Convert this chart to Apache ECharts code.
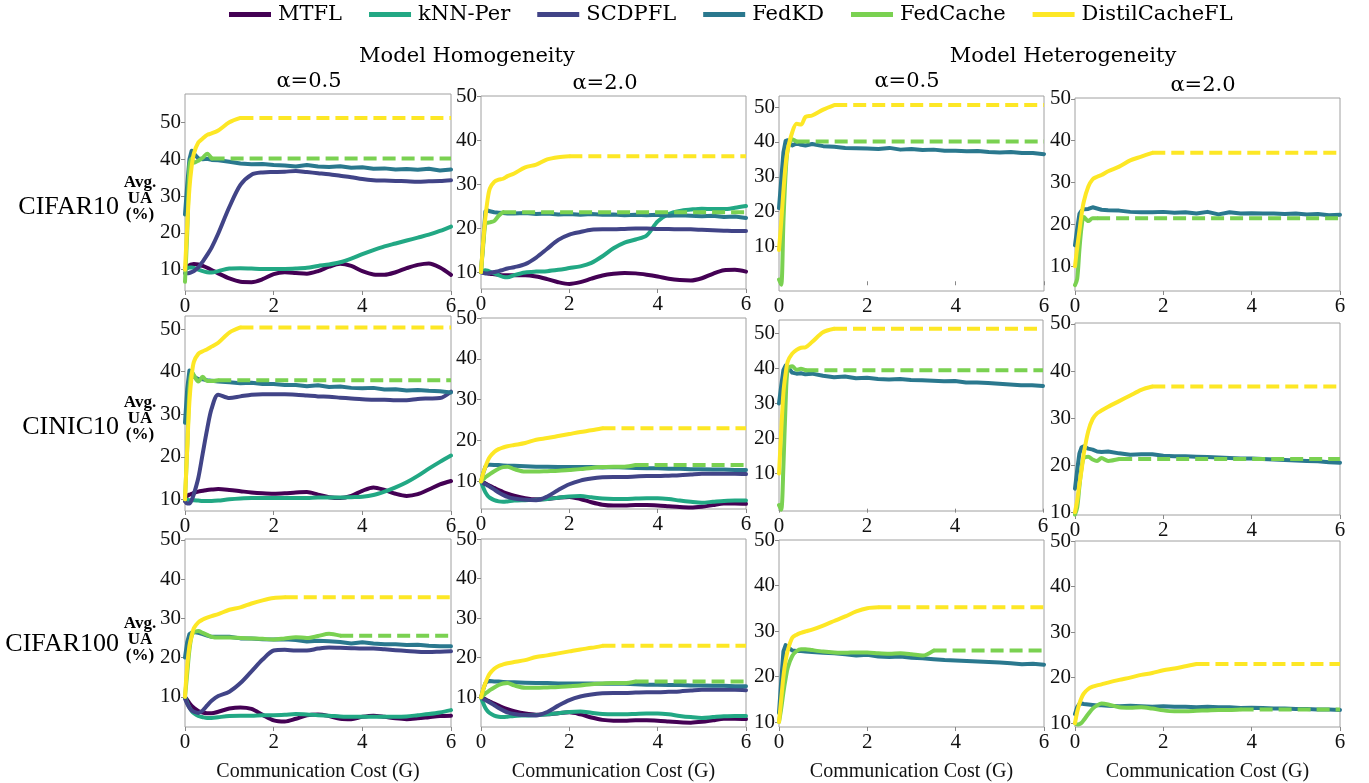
<!DOCTYPE html>
<html>
<head>
<meta charset="utf-8">
<script src="https://cdn.jsdelivr.net/npm/echarts@6/dist/echarts.min.js"></script>
<style>
html,body{margin:0;padding:0;background:#fff;}
#chart{width:1369px;height:783px;}
</style>
</head>
<body>
<div id="chart"></div>
<script>
// ---------------- DATA ----------------
const X = [0, 0.05, 0.1, 0.15, 0.2, 0.3, 0.4, 0.5, 0.6, 0.75, 1.0, 1.25, 1.5, 1.75, 2.0, 2.25, 2.5, 2.75, 3.0, 3.25, 3.5, 3.75, 4.0, 4.25, 4.5, 4.75, 5.0, 5.25, 5.5, 5.75, 6.0];
const METHODS = ['MTFL', 'kNN-Per', 'SCDPFL', 'FedKD', 'FedCache', 'DistilCacheFL'];
const ROW_NAMES = ['CIFAR10', 'CINIC10', 'CIFAR100'];
const GROUP_TITLES = ['Model Homogeneity', 'Model Heterogeneity'];
const COL_TITLES = ['α=0.5', 'α=2.0', 'α=0.5', 'α=2.0'];
const Y_TICKS = [10, 20, 30, 40, 50];
const X_TICKS = [0, 2, 4, 6];

// CIFAR10, model homogeneity, alpha=0.5
const c10_homo_a05_MTFL = [10.5,10.9,11.2,11.4,11.5,11.4,11.0,10.5,9.9,9.0,7.6,6.7,6.6,7.4,8.8,9.3,9.1,8.9,9.6,10.8,11.6,11.0,9.6,8.7,8.6,9.3,10.4,11.3,11.7,10.6,8.6];
const c10_homo_a05_kNN = [10.0,10.4,10.6,10.6,10.5,10.0,9.6,9.3,9.2,9.6,10.3,10.4,10.3,10.2,10.2,10.2,10.3,10.5,11.0,11.4,12.0,13.0,14.2,15.3,16.3,17.1,17.9,18.7,19.5,20.5,21.7];
const c10_homo_a05_SCDPFL = [9.0,9.0,9.1,9.3,9.6,10.6,12.2,14.0,16.0,19.8,27.0,33.0,35.8,36.4,36.5,36.6,36.8,36.5,36.2,35.9,35.5,35.1,34.6,34.3,34.2,34.1,34.0,33.9,34.0,34.1,34.3];
const c10_homo_a05_FedKD = [25.0,33.0,40.0,42.3,41.5,40.2,40.0,40.1,39.8,39.7,39.3,38.8,38.6,38.7,38.4,38.3,38.0,38.4,38.0,37.9,38.1,37.7,37.8,37.4,37.5,37.2,37.3,37.1,37.4,36.9,37.2];
const c10_homo_a05_FedCache = [6.7,20.0,38.0,40.2,39.0,39.6,40.4,41.5,40.2];
const c10_homo_a05_Distil = [10.0,22.0,32.0,38.0,41.5,44.5,45.6,46.6,47.0,47.8,50.0,51.2];

// CIFAR10, model homogeneity, alpha=2.0
const c10_homo_a20_MTFL = [10.0,9.9,9.8,9.7,9.6,9.5,9.4,9.3,9.3,9.3,9.3,9.0,8.4,7.7,7.3,7.7,8.5,9.2,9.6,9.8,9.7,9.4,9.0,8.5,8.2,8.1,8.6,9.6,10.4,10.5,10.1];
const c10_homo_a20_kNN = [10.0,10.3,10.4,10.3,10.1,9.7,9.3,8.9,8.8,9.3,9.9,10.1,10.2,10.5,10.9,11.3,12.1,13.6,15.4,16.7,17.4,18.3,21.5,23.2,23.9,24.2,24.4,24.3,24.3,24.6,25.0];
const c10_homo_a20_SCDPFL = [10.0,9.8,9.7,9.7,9.8,10.0,10.2,10.5,10.8,11.1,11.8,13.3,15.3,17.3,18.5,19.1,19.6,19.7,19.7,19.8,19.9,19.9,19.8,19.8,19.7,19.7,19.6,19.5,19.4,19.3,19.3];
const c10_homo_a20_FedKD = [10.0,17.0,23.8,24.0,23.8,23.6,23.5,23.4,23.3,23.3,23.4,23.2,23.3,23.1,23.2,23.0,23.2,23.0,23.1,22.9,23.0,22.9,23.0,22.8,22.9,22.8,22.7,22.8,22.5,22.6,22.3];
const c10_homo_a20_FedCache = [10.0,16.0,21.0,21.2,21.3,21.6,22.8,23.6];
const c10_homo_a20_Distil = [10.0,17.0,22.5,26.5,29.0,30.5,31.0,31.2,31.8,32.4,33.8,34.4,35.6,36.1,36.3];

// CIFAR10, model heterogeneity, alpha=0.5
const c10_hete_a05_FedKD = [21.0,29.0,37.0,40.3,40.5,39.0,39.6,39.2,39.0,39.4,38.8,38.6,38.3,38.2,38.1,38.0,38.3,37.8,38.0,37.7,37.8,37.5,37.5,37.3,37.4,37.1,37.0,37.1,36.8,36.8,36.5];
const c10_hete_a05_FedCache = [0.5,-1.0,17.0,31.0,38.0,40.8,40.1];
const c10_hete_a05_Distil = [9.0,17.0,26.0,33.5,38.0,42.8,45.2,45.0,47.2,47.6,49.3,50.6];

// CIFAR10, model heterogeneity, alpha=2.0
const c10_hete_a20_FedKD = [15.0,19.0,22.5,23.3,23.6,23.7,24.1,23.8,23.5,23.4,23.3,23.0,22.9,22.9,23.0,22.8,22.9,22.6,23.0,22.4,22.9,22.6,22.7,22.6,22.6,22.5,22.6,22.4,22.5,22.2,22.3];
const c10_hete_a20_FedCache = [5.5,7.0,14.0,19.5,21.8,20.8,21.5,21.5];
const c10_hete_a20_Distil = [10.0,14.5,18.5,22.5,25.5,29.0,30.8,31.4,31.8,32.7,33.8,35.3,36.2,37.1];

// CINIC10, model homogeneity, alpha=0.5
const cinic_homo_a05_MTFL = [10.5,10.8,11.1,11.3,11.5,11.8,12.0,12.2,12.3,12.4,12.2,11.9,11.6,11.4,11.3,11.4,11.6,11.7,11.1,10.5,10.3,10.8,12.0,12.8,12.2,11.3,10.8,11.2,12.3,13.5,14.3];
const cinic_homo_a05_kNN = [10.0,9.9,9.8,9.8,9.8,9.7,9.6,9.6,9.6,9.7,10.0,10.2,10.3,10.3,10.3,10.3,10.3,10.3,10.4,10.4,10.4,10.5,10.6,11.0,11.8,12.8,14.0,15.5,17.2,18.8,20.3];
const cinic_homo_a05_SCDPFL = [9.5,9.0,9.0,9.8,11.2,15.0,20.8,26.5,31.3,34.6,33.8,34.2,34.6,34.7,34.7,34.7,34.6,34.4,34.2,34.1,33.9,33.7,33.5,33.4,33.4,33.3,33.3,33.6,33.7,33.8,35.3];
const cinic_homo_a05_FedKD = [28.0,36.0,40.3,40.0,38.8,38.3,38.2,38.0,37.9,37.7,37.5,37.3,37.4,37.1,37.1,36.9,36.9,36.6,36.8,36.4,36.5,36.2,36.1,36.2,35.8,35.9,35.6,35.7,35.5,35.4,35.1];
const cinic_homo_a05_FedCache = [10.0,22.0,36.0,40.0,39.2,37.7,38.8,37.8,37.8,38.0];
const cinic_homo_a05_Distil = [10.0,22.0,33.0,39.0,42.3,44.2,44.8,45.3,45.9,46.8,49.2,50.4];

// CINIC10, model homogeneity, alpha=2.0
const cinic_homo_a20_MTFL = [10.0,9.8,9.5,9.2,8.9,8.4,7.9,7.4,7.0,6.5,5.9,5.6,5.7,6.0,6.2,5.7,4.9,4.3,4.1,4.1,4.2,4.2,4.1,3.9,3.7,3.6,3.8,4.2,4.6,4.6,4.5];
const cinic_homo_a20_kNN = [10.0,8.5,7.3,6.5,6.0,5.4,5.1,5.0,5.1,5.3,5.4,5.5,5.7,6.0,6.3,6.4,6.1,5.8,5.7,5.7,5.8,5.9,5.9,5.7,5.3,5.0,4.8,5.0,5.2,5.3,5.3];
const cinic_homo_a20_SCDPFL = [10.0,9.6,9.3,9.0,8.7,8.0,7.3,6.7,6.2,5.8,5.5,5.4,6.3,7.9,9.3,10.2,10.7,11.0,11.1,11.1,11.2,11.3,11.3,11.4,11.5,11.7,11.9,11.9,11.9,11.9,11.8];
const cinic_homo_a20_FedKD = [10.0,12.0,13.6,14.0,14.1,14.0,14.0,13.9,13.8,13.8,13.7,13.6,13.6,13.5,13.5,13.5,13.5,13.4,13.5,13.4,13.3,13.2,13.2,13.1,13.1,13.0,13.0,12.9,12.9,12.8,12.8];
const cinic_homo_a20_FedCache = [10.0,10.5,11.0,11.4,11.8,12.5,13.1,13.5,13.6,13.0,12.4,12.4,12.5,12.6,12.8,13.0,13.3,13.5,13.6,13.6,14.0];
const cinic_homo_a20_Distil = [10.0,12.0,13.6,15.0,16.0,17.2,17.9,18.3,18.6,18.9,19.4,20.2,20.6,21.1,21.6,22.1,22.5,23.0];

// CINIC10, model heterogeneity, alpha=0.5
const cinic_hete_a05_FedKD = [30.0,35.0,39.5,40.8,40.3,38.8,38.5,38.6,38.3,38.5,37.9,37.5,37.7,37.2,37.3,37.0,36.8,37.0,36.7,36.6,36.5,36.3,36.4,36.0,36.0,35.8,35.6,35.4,35.2,35.2,35.0];
const cinic_hete_a05_FedCache = [1.0,-0.3,12.0,30.0,40.0,40.6,39.6,39.9,39.5];
const cinic_hete_a05_Distil = [10.0,22.0,33.0,38.5,42.0,44.2,45.3,45.9,46.0,47.5,50.3,51.3];

// CINIC10, model heterogeneity, alpha=2.0
const cinic_hete_a20_FedKD = [15.0,19.0,22.5,23.8,24.0,23.5,23.3,22.9,22.8,22.9,22.5,22.2,22.3,22.3,22.0,21.9,21.9,21.8,21.7,21.6,21.5,21.4,21.4,21.3,21.2,21.1,21.0,20.9,20.8,20.6,20.5];
const cinic_hete_a20_FedCache = [9.5,11.0,15.5,19.5,21.5,21.8,21.2,20.9,21.5,20.9,21.3];
const cinic_hete_a20_Distil = [10.0,12.5,16.0,19.0,22.5,27.2,29.8,31.0,31.6,32.4,33.6,34.8,36.0,36.7];

// CIFAR100, model homogeneity, alpha=0.5
const c100_homo_a05_MTFL = [10.0,9.2,8.4,7.7,7.2,6.4,6.0,5.8,5.8,6.2,7.0,7.3,6.9,5.4,4.0,3.7,4.4,5.3,5.5,5.1,4.4,4.3,4.9,5.2,4.9,4.5,4.3,4.5,4.8,5.1,5.2];
const c100_homo_a05_kNN = [10.0,8.5,7.3,6.4,5.8,5.1,4.8,4.6,4.6,4.8,5.1,5.2,5.2,5.3,5.3,5.4,5.6,5.5,5.3,5.2,5.0,4.9,4.9,4.9,4.9,4.9,5.0,5.3,5.6,6.0,6.6];
const c100_homo_a05_SCDPFL = [9.5,8.2,7.2,6.5,6.2,5.9,6.5,7.8,9.0,10.2,11.3,13.5,16.5,19.5,21.8,22.0,21.8,21.8,22.3,22.6,22.5,22.4,22.3,22.3,22.1,21.9,21.7,21.5,21.4,21.5,21.6];
const c100_homo_a05_FedKD = [20.0,24.0,26.0,26.4,26.5,26.3,26.0,25.6,25.3,25.3,25.3,24.9,24.9,24.7,24.6,24.7,24.5,24.1,24.3,24.2,24.0,23.6,23.9,23.6,23.4,23.4,23.2,23.3,23.0,22.9,22.9];
const c100_homo_a05_FedCache = [10.0,16.0,22.0,25.5,26.5,26.8,26.3,25.8,25.3,25.1,25.1,25.0,24.9,24.8,24.6,24.9,25.2,25.0,25.5,26.1,25.6];
const c100_homo_a05_Distil = [10.0,18.0,23.0,25.5,27.5,29.0,29.7,30.2,30.6,31.1,32.2,32.8,33.8,34.6,35.2,35.4];

// CIFAR100, model homogeneity, alpha=2.0
const c100_homo_a20_MTFL = [10.0,9.8,9.5,9.2,8.9,8.4,7.9,7.4,7.0,6.5,5.9,5.6,5.7,6.0,6.2,5.7,4.9,4.3,4.1,4.1,4.2,4.2,4.1,3.9,3.7,3.6,3.8,4.2,4.6,4.6,4.5];
const c100_homo_a20_kNN = [10.0,8.5,7.3,6.5,6.0,5.4,5.1,5.0,5.1,5.3,5.4,5.5,5.7,6.0,6.3,6.4,6.1,5.8,5.7,5.7,5.8,5.9,5.9,5.7,5.3,5.0,4.8,5.0,5.2,5.3,5.3];
const c100_homo_a20_SCDPFL = [10.0,9.6,9.3,9.0,8.7,8.0,7.3,6.7,6.2,5.8,5.5,5.4,6.3,7.9,9.3,10.2,10.7,11.0,11.1,11.1,11.2,11.3,11.3,11.4,11.5,11.7,11.9,11.9,11.9,11.9,11.8];
const c100_homo_a20_FedKD = [10.0,12.0,13.6,14.0,14.1,14.0,14.0,13.9,13.8,13.8,13.7,13.6,13.6,13.5,13.5,13.5,13.5,13.4,13.5,13.4,13.3,13.2,13.2,13.1,13.1,13.0,13.0,12.9,12.9,12.8,12.8];
const c100_homo_a20_FedCache = [10.0,10.5,11.0,11.4,11.8,12.5,13.1,13.5,13.6,13.0,12.4,12.4,12.5,12.6,12.8,13.0,13.3,13.5,13.6,13.6,14.0];
const c100_homo_a20_Distil = [10.0,12.0,13.6,15.0,16.0,17.2,17.9,18.3,18.6,18.9,19.4,20.2,20.6,21.1,21.6,22.1,22.5,23.0];

// CIFAR100, model heterogeneity, alpha=0.5
const c100_hete_a05_FedKD = [12.0,19.0,25.5,26.9,26.5,25.7,25.6,25.6,25.5,25.4,25.2,25.1,24.9,24.6,24.8,24.4,24.3,24.4,24.1,24.0,23.8,23.6,23.5,23.4,23.3,23.2,23.1,22.9,22.7,22.8,22.6];
const c100_hete_a05_FedCache = [10.0,13.0,16.5,19.5,22.0,24.5,25.6,26.0,26.0,25.8,25.5,25.3,25.2,25.3,25.3,25.1,25.0,25.1,24.9,24.6,25.7];
const c100_hete_a05_Distil = [10.0,15.0,20.0,23.5,25.8,28.5,29.2,29.6,29.9,30.3,31.2,32.2,33.2,34.3,35.0,35.2];

// CIFAR100, model heterogeneity, alpha=2.0
const c100_hete_a20_FedKD = [12.0,13.5,14.2,14.3,14.2,14.1,14.0,13.9,13.9,13.8,13.7,13.8,13.7,13.6,13.7,13.6,13.6,13.5,13.6,13.5,13.5,13.3,13.4,13.3,13.2,13.2,13.1,13.1,13.0,13.0,12.9];
const c100_hete_a20_FedCache = [10.0,9.7,9.8,10.1,10.7,12.0,13.2,13.9,14.3,14.1,13.5,13.4,13.5,13.2,12.8,12.6,12.6,12.7,12.8,12.9,12.9,13.0];
const c100_hete_a20_Distil = [10.0,12.5,14.3,15.6,16.5,17.5,18.0,18.3,18.5,18.9,19.5,20.0,20.6,21.0,21.6,22.0,22.5,23.0];

// ---------------- LAYOUT / STYLE ----------------
const COLORS = {'MTFL':'#440154','kNN-Per':'#22a884','SCDPFL':'#414487','FedKD':'#2a788e','FedCache':'#7ad151','DistilCacheFL':'#fde725'};
const FONT = '"Liberation Serif", "Times New Roman", serif';
const WIDE = '"DejaVu Serif", serif';

const PANELS = [
  [ {s:[c10_homo_a05_MTFL,c10_homo_a05_kNN,c10_homo_a05_SCDPFL,c10_homo_a05_FedKD,c10_homo_a05_FedCache,c10_homo_a05_Distil]},
    {s:[c10_homo_a20_MTFL,c10_homo_a20_kNN,c10_homo_a20_SCDPFL,c10_homo_a20_FedKD,c10_homo_a20_FedCache,c10_homo_a20_Distil]},
    {s:[null,null,null,c10_hete_a05_FedKD,c10_hete_a05_FedCache,c10_hete_a05_Distil]},
    {s:[null,null,null,c10_hete_a20_FedKD,c10_hete_a20_FedCache,c10_hete_a20_Distil]} ],
  [ {s:[cinic_homo_a05_MTFL,cinic_homo_a05_kNN,cinic_homo_a05_SCDPFL,cinic_homo_a05_FedKD,cinic_homo_a05_FedCache,cinic_homo_a05_Distil]},
    {s:[cinic_homo_a20_MTFL,cinic_homo_a20_kNN,cinic_homo_a20_SCDPFL,cinic_homo_a20_FedKD,cinic_homo_a20_FedCache,cinic_homo_a20_Distil]},
    {s:[null,null,null,cinic_hete_a05_FedKD,cinic_hete_a05_FedCache,cinic_hete_a05_Distil]},
    {s:[null,null,null,cinic_hete_a20_FedKD,cinic_hete_a20_FedCache,cinic_hete_a20_Distil]} ],
  [ {s:[c100_homo_a05_MTFL,c100_homo_a05_kNN,c100_homo_a05_SCDPFL,c100_homo_a05_FedKD,c100_homo_a05_FedCache,c100_homo_a05_Distil]},
    {s:[c100_homo_a20_MTFL,c100_homo_a20_kNN,c100_homo_a20_SCDPFL,c100_homo_a20_FedKD,c100_homo_a20_FedCache,c100_homo_a20_Distil]},
    {s:[null,null,null,c100_hete_a05_FedKD,c100_hete_a05_FedCache,c100_hete_a05_Distil]},
    {s:[null,null,null,c100_hete_a20_FedKD,c100_hete_a20_FedCache,c100_hete_a20_Distil]} ]
];
// grid boxes [left, top, width, height] and y extents
const BOX = [
  [[185,94,266,197],[481,96,265,193],[779,96,265,195],[1075,98,265,193]],
  [[185,316,266,195],[481,318,265,191],[779,320,264,191],[1075,323,265,192]],
  [[185,539,266,192],[481,539,265,194],[779,540,265,193],[1075,541,265,192]]
];
const YEXT = [
  [[4.2,57.7],[6.15,50],[-2.8,53.2],[4.1,50.2]],
  [[7.25,53.1],[3.24,50],[-0.67,53.8],[9.4,50.2]],
  [[2.3,50.25],[2.5,50],[8.9,50],[9.15,50]]
];
const COL_TITLE_POS = [[309,82],[605,84],[907,82],[1203,86]];
const ROW_LABEL_Y = [207,427,644];
const YNAME_Y = [199,419,640];

const grid = [], xAxis = [], yAxis = [], series = [];
let gi = 0;
for (let r = 0; r < 3; r++) {
  for (let c = 0; c < 4; c++) {
    const b = BOX[r][c];
    grid.push({left:b[0], top:b[1], width:b[2], height:b[3], show:true, borderColor:'#a0a0a0', borderWidth:1, backgroundColor:'transparent', containLabel:false});
    xAxis.push({
      type:'value', gridIndex:gi, min:0, max:6, interval:2,
      axisLine:{show:false}, splitLine:{show:false},
      axisTick:{show:true, length:4, lineStyle:{color:'#888'}},
      axisLabel:{fontFamily:FONT, fontSize:21, color:'#111', margin:5},
      name: r === 2 ? 'Communication Cost (G)' : '',
      nameLocation:'middle', nameGap:35,
      nameTextStyle:{fontFamily:FONT, fontSize:20, color:'#111'}
    });
    yAxis.push({
      type:'value', gridIndex:gi, min:YEXT[r][c][0], max:YEXT[r][c][1],
      axisLine:{show:false}, splitLine:{show:false},
      axisTick:{show:true, length:4, lineStyle:{color:'#888'}, customValues:Y_TICKS},
      axisLabel:{fontFamily:FONT, fontSize:21, color:'#111', margin:4, customValues:Y_TICKS}
    });
    const p = PANELS[r][c];
    for (let m = 0; m < METHODS.length; m++) {
      const ys = p.s[m];
      if (!ys) continue;
      const name = METHODS[m];
      const pts = ys.map((y, i) => [X[i], y]);
      series.push({
        type:'line', name:name, xAxisIndex:gi, yAxisIndex:gi, data:pts,
        symbol:'none', smooth: name === 'FedKD' ? false : 0.3,
        lineStyle:{color:COLORS[name], width:4, cap:'round', join:'round'},
        itemStyle:{color:COLORS[name]}, z: 2 + m
      });
      if (name === 'FedCache' || name === 'DistilCacheFL') {
        const last = pts[pts.length - 1];
        series.push({
          type:'line', name:name, xAxisIndex:gi, yAxisIndex:gi,
          data:[[last[0], last[1]], [6, last[1]]],
          symbol:'none',
          lineStyle:{color:COLORS[name], width:4, type:[13, 6], cap:'butt'},
          itemStyle:{color:COLORS[name]}, z: 2 + m
        });
      }
    }
    gi++;
  }
}

const graphic = [];
graphic.push({type:'text', style:{text:GROUP_TITLES[0], x:467, y:57, font:'21px ' + WIDE, fill:'#000', align:'center', verticalAlign:'middle'}});
graphic.push({type:'text', style:{text:GROUP_TITLES[1], x:1063, y:57, font:'21px ' + WIDE, fill:'#000', align:'center', verticalAlign:'middle'}});
for (let c = 0; c < 4; c++) {
  graphic.push({type:'text', style:{text:COL_TITLES[c], x:COL_TITLE_POS[c][0], y:COL_TITLE_POS[c][1], font:'21px ' + WIDE, fill:'#000', align:'center', verticalAlign:'middle'}});
}
for (let r = 0; r < 3; r++) {
  graphic.push({type:'text', style:{text:ROW_NAMES[r], x:119, y:ROW_LABEL_Y[r], font:'26px ' + FONT, fill:'#000', align:'right', verticalAlign:'middle'}});
  graphic.push({type:'text', style:{text:'Avg.\nUA\n(%)', x:140, y:YNAME_Y[r], font:'bold 17px ' + FONT, lineHeight:16, fill:'#000', align:'center', verticalAlign:'middle'}});
}

const chart = echarts.init(document.getElementById('chart'), null, {renderer:'canvas'});
chart.setOption({
  animation:false,
  backgroundColor:'#fff',
  legend:{
    data:METHODS.map(n => ({name:n, icon:'rect', itemStyle:{color:COLORS[n]}})),
    left:229, top:4, padding:0, itemWidth:42, itemHeight:5, itemGap:27,
    textStyle:{fontFamily:WIDE, fontSize:21, color:'#000', padding:[0,0,0,2]}
  },
  grid:grid, xAxis:xAxis, yAxis:yAxis, series:series, graphic:graphic
});
</script>
</body>
</html>
